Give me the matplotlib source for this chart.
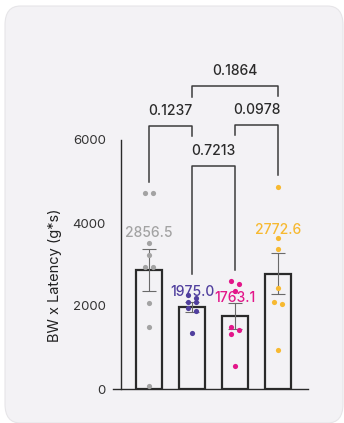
import matplotlib
matplotlib.use("Agg")
import matplotlib.pyplot as plt
from matplotlib.patches import FancyBboxPatch
import numpy as np

plt.rcParams['font.family'] = ['Inter', 'DejaVu Sans']

# values
groups = ["G1", "G2", "G3", "G4"]
means = [2856.5, 1975.0, 1763.1, 2772.6]
sems = [506, 120, 313, 494]
points_g1 = [4723, 4723, 3518, 3229, 2940, 2940, 2072, 1494, 72]
points_g2 = [2265, 2193, 2096, 2096, 1952, 1880, 1349]
points_g3 = [2602, 2530, 2361, 1494, 1422, 1325, 554]
points_g4 = [4867, 3639, 3373, 2434, 2096, 2048, 940]
colors = ["#a3a3a3", "#503f9e", "#e3168a", "#f7b931"]
pvals = ["0.1237", "0.7213", "0.0978", "0.1864"]
pairs = [(0, 1), (1, 2), (2, 3), (1, 3)]

# layout: bracket bar height, left leg end, right leg end
bracket_y = [(6337, 4988, 6096), (5373, 2771, 2867), (6361, 6120, 5157), (7301, 7036, 7060)]
label_y = [3760, 2340, 2190, 3830]

all_points = [points_g1, points_g2, points_g3, points_g4]


def swarm(vals, gap=150, d=0.095):
    # put close values side by side
    order = np.argsort(vals)[::-1]
    offs = np.zeros(len(vals))
    run = [order[0]]
    chains = []
    for a, b in zip(order[:-1], order[1:]):
        if vals[a] - vals[b] < gap:
            run.append(b)
        else:
            chains.append(run)
            run = [b]
    chains.append(run)
    for c in chains:
        if len(c) == 1:
            continue
        for k, idx in enumerate(c):
            offs[idx] = -d if k % 2 == 0 else d
    return offs


W, H = 344, 423
fig = plt.figure(figsize=(W / 100, H / 100), dpi=100)
fig.patch.set_facecolor("white")
card = FancyBboxPatch((5 / W, 1 - 423 / H), 338 / W, 417 / H,
                      boxstyle="round,pad=0,rounding_size=0.045",
                      transform=fig.transFigure, facecolor="#f3f2f5",
                      edgecolor="#e6e5e8", linewidth=0.8, zorder=-5)
fig.patches.append(card)

ax = fig.add_axes([113 / W, (H - 389) / H, 195 / W, (389 - 65.3) / H])
ax.set_facecolor("none")
ax.set_zorder(2)
x = np.arange(len(groups))

ax.bar(x, means, width=0.6, facecolor="none", edgecolor="#2a2a2a", linewidth=1.6, zorder=2)
ax.errorbar(x, means, yerr=sems, fmt="none", ecolor="#6a6a6a", elinewidth=0.8,
            capsize=5, capthick=0.8, zorder=3)

for i, pts in enumerate(all_points):
    pts = np.array(pts)
    ax.scatter(x[i] + swarm(pts), pts, s=14, color=colors[i], zorder=4, linewidths=0)
    ax.text(x[i], label_y[i], f"{means[i]:.1f}", color=colors[i], ha="center",
            va="center", fontsize=10, fontweight="medium", zorder=5)

for (i, j), p, (top, l_end, r_end) in zip(pairs, pvals, bracket_y):
    ax.plot([x[i], x[i], x[j], x[j]], [l_end, top, top, r_end], color="#3c3c3c",
            lw=1.1, clip_on=False, zorder=2)
    ax.text((x[i] + x[j]) / 2, top + 360, p, ha="center", va="center",
            fontsize=10, fontweight="medium", color="#2b2b2b")

ax.set_xlim(-0.84, 3.7)
ax.set_ylim(0, 7800)
ax.spines["top"].set_visible(False)
ax.spines["right"].set_visible(False)
ax.spines["left"].set_position(("data", -0.65))
ax.spines["left"].set_bounds(0, 6000)
for s in ["left", "bottom"]:
    ax.spines[s].set_color("#2a2a2a")
    ax.spines[s].set_linewidth(1.0)
ax.set_yticks([0, 2000, 4000, 6000])
ax.tick_params(axis="y", length=0, pad=11, labelsize=9.5, labelcolor="#333333")
ax.set_xticks([])
ax.set_ylabel("BW x Latency (g*s)", fontsize=10.5, color="#222222")
ax.yaxis.set_label_coords(-0.26, 0.352)

fig.savefig("out.png", dpi=100)
